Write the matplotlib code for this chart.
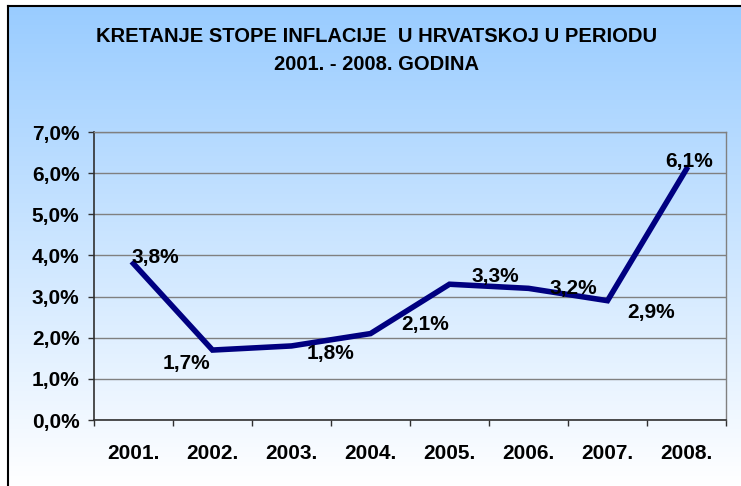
import numpy as np
import matplotlib
matplotlib.use("Agg")
import matplotlib.pyplot as plt
from matplotlib.ticker import FuncFormatter, FixedLocator

years = ["2001.", "2002.", "2003.", "2004.", "2005.", "2006.", "2007.", "2008."]
inflation = [3.8, 1.7, 1.8, 2.1, 3.3, 3.2, 2.9, 6.1]
yticks = [0, 1, 2, 3, 4, 5, 6, 7]
title_lines = ["KRETANJE STOPE INFLACIJE  U HRVATSKOJ U PERIODU", "2001. - 2008. GODINA"]

# label offsets in pixels (dx, dy)
label_offsets = [(22, 6), (-26, -13), (39, -8), (55, 9), (46, 8), (45, 0), (44, -12), (3, 8)]

W, H = 741, 486
fig = plt.figure(figsize=(W / 100, H / 100), dpi=100)
fig.patch.set_facecolor("white")

# background gradient inside frame
bg = fig.add_axes([7 / W, 0, 1 - 7 / W, (H - 6) / H])
bg.set_axis_off()
top = np.array([153, 204, 255]) / 255.0
bot = np.array([255, 255, 255]) / 255.0
t = np.linspace(0, 1, 256)[:, None]
grad = top[None, :] * (1 - t) + bot[None, :] * t
bg.imshow(grad[:, None, :], aspect="auto", extent=[0, 1, 0, 1])
bg.set_xlim(0, 1)
bg.set_ylim(0, 1)

# frame lines (left and top)
fig.add_artist(plt.Line2D([7.5 / W, 7.5 / W], [0, 1 - 6 / H], transform=fig.transFigure, color="black", lw=1.5))
fig.add_artist(plt.Line2D([7.5 / W, 1], [1 - 6.5 / H, 1 - 6.5 / H], transform=fig.transFigure, color="black", lw=1.5))

ax = fig.add_axes([94 / W, (H - 420) / H, (726 - 94) / W, (420 - 132) / H])
ax.patch.set_alpha(0)
x = np.arange(len(years))
ax.plot(x, inflation, color="#000080", lw=4, solid_joinstyle="miter", zorder=3)

ax.set_xlim(-0.5, len(years) - 0.5)
ax.set_ylim(0, 7)
ax.set_yticks(yticks)
ax.yaxis.set_major_formatter(FuncFormatter(lambda v, p: f"{v:.1f}%".replace(".", ",")))
ax.grid(axis="y", color="#808080", lw=1)
ax.set_axisbelow(True)

ax.set_xticks(x)
ax.set_xticklabels(years)
ax.xaxis.set_minor_locator(FixedLocator(np.arange(-0.5, len(years), 1.0)))
ax.tick_params(axis="x", which="major", length=0, pad=17)
ax.tick_params(axis="x", which="minor", length=4.5, width=1, color="#303030", direction="out")
ax.tick_params(axis="y", length=4.5, width=1, color="#303030", pad=6)

for lab in ax.get_xticklabels() + ax.get_yticklabels():
    lab.set_fontfamily("Liberation Sans")
    lab.set_fontweight("bold")
    lab.set_fontsize(15)

for s in ["left", "bottom"]:
    ax.spines[s].set_color("#303030")
    ax.spines[s].set_linewidth(1.2)
for s in ["right", "top"]:
    ax.spines[s].set_color("#808080")
    ax.spines[s].set_linewidth(1)

for xi, v, (dx, dy) in zip(x, inflation, label_offsets):
    ax.annotate(f"{v:.1f}%".replace(".", ","), (xi, v), xytext=(dx * 0.72, dy * 0.72),
                textcoords="offset points", ha="center", va="center",
                fontfamily="Liberation Sans", fontweight="bold", fontsize=15, zorder=4)

for line, yc in zip(title_lines, [35, 63]):
    fig.text(377 / W, 1 - yc / H, line, ha="center", va="center_baseline",
             fontfamily="Liberation Sans", fontweight="bold", fontsize=14.5)

fig.savefig("out.png", dpi=100)
